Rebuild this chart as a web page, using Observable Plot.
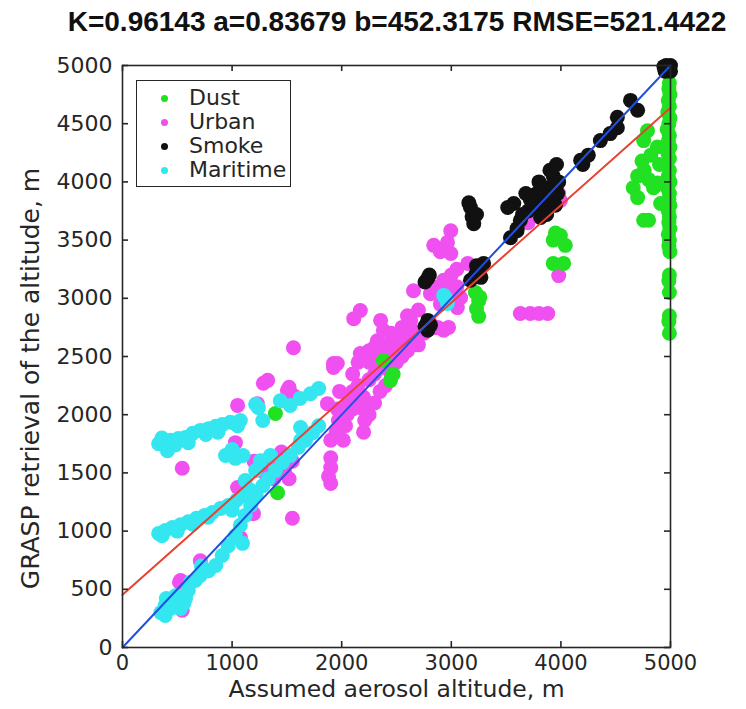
<!DOCTYPE html>
<html><head><meta charset="utf-8">
<script src="https://cdn.jsdelivr.net/npm/d3@7"></script>
<script src="https://cdn.jsdelivr.net/npm/@observablehq/plot@0.6"></script>
<style>
body{margin:0;background:#fff;width:746px;height:709px;overflow:hidden;position:relative;font-family:"DejaVu Sans",sans-serif;}
#title{height:44px;font:bold 28px "Liberation Sans",Arial,sans-serif;line-height:44px;text-align:center;padding-left:48px;color:#111;white-space:nowrap;}
#legend{position:absolute;left:136px;top:80px;width:153px;height:105px;border:1.5px solid #262626;background:#fff;}
#legend div{position:absolute;left:0;font-size:22px;color:#262626;line-height:24px;}
#legend span.dot{position:absolute;left:24px;top:9px;width:7px;height:7px;border-radius:50%;}
#legend span.t{position:absolute;left:52px;top:0;white-space:nowrap;}
</style></head>
<body>
<div id="title"></div>
<div id="chart"></div>
<div id="legend"></div>
<script>
const titleText = "K=0.96143 a=0.83679 b=452.3175 RMSE=521.4422";
const fitA = 0.83679, fitB = 452.3175;
const xLabel = "Assumed aerosol altitude, m";
const yLabel = "GRASP retrieval of the altitude, m";
const xTicks = [0,1000,2000,3000,4000,5000];
const yTicks = [0,500,1000,1500,2000,2500,3000,3500,4000,4500,5000];
const seriesNames = ["Dust","Urban","Smoke","Maritime"];
const seriesColors = ["#22e022","#f050f0","#111111","#33e6f0"];

const dust = [
 [4990,4850],[4985,4800],[4995,4750],[4980,4700],[4990,4650],[4975,4600],[4995,4550],[4985,4500],[4970,4450],[4990,4400],
 [4980,4350],[4995,4300],[4975,4250],[4990,4200],[4965,4150],[4990,4100],[4980,4050],[4995,4000],[4970,3950],[4990,3900],
 [4985,3850],[4995,3800],[4980,3750],[4990,3700],[4985,3650],[4995,3600],[4980,3550],[4990,3500],[4985,3450],[4995,3400],
 [4990,3200],[4985,3150],[4990,3050],[4990,2850],[4985,2800],[4990,2700],
 [4790,4440],[4755,4355],[4740,4180],[4760,4100],[4800,4020],[4845,3950],[4700,4050],[4660,3950],[4700,3865],[4910,3815],
 [4755,3670],[4800,3670],[4880,4300],[4900,4150],[4880,3990],[4820,4230],
 [3930,3500],[3995,3540],[4040,3455],[3950,3560],[3930,3300],[4025,3300],
 [3220,3050],[3250,2980],[3230,2910],[3250,2845],[3260,3010],
 [2380,2465],[2445,2295],[2470,2350],[1395,2010],[1395,1520],[1415,1330]
];
const urban = [
 [530,575],[545,320],[520,560],[540,330],[710,745],[545,1540],
 [1050,2080],[1030,1760],[1050,1375],[1075,945],[1195,1150],
 [1200,1600],[1260,1560],[1300,1500],[1350,1620],[1420,1580],[1480,1500],[1520,1450],[1550,1600],[1450,1680],[1380,1450],
 [1550,1110],[1285,2270],[1325,2295],[1505,2210],[1560,2165],[1230,2095],[1505,2150],[1520,2235],[1560,2575],
 [1870,2095],[1925,2405],[1900,1780],[1950,1850],[1970,1950],[1960,2050],[1980,2200],
 [1900,1630],[1900,1545],[1900,1410],[1880,1470],
 [2050,2100],[2100,2200],[2150,2250],[2200,2150],[2250,2300],[2300,2350],[2350,2400],[2400,2450],[2450,2500],[2500,2550],
 [2550,2600],[2600,2650],[2200,2050],[2250,2000],[2300,2100],[2350,2200],[2400,2250],[2100,2350],[2150,2450],[1925,2440],
 [2170,2525],[2230,2525],[2380,2550],[2325,2635],[2445,2610],[2535,2635],[2110,2825],[2170,2895],[2355,2810],[2380,2725],
 [2565,2705],[2630,2750],[2630,2810],[2655,3065],[2810,3040],[2700,2600],[2750,2700],[2800,2800],[2850,2750],[2875,2750],
 [2930,2725],[2975,2750],[3055,2920],[3085,3005],[2930,3155],[3000,3200],[3050,3250],[3150,3300],[2995,3385],[2840,3455],
 [2965,3480],[2995,3580],[3050,3100],[2900,2950],[2700,2900],[2600,2850],[2015,1780],[2035,1905],[2000,2000],
 [2200,1850],[2210,1950],[2200,2050],[1970,1880],[1990,2000],[1960,2440],[2900,3400],
 [2250,2450],[2300,2500],[2450,2350],[2500,2450],[2550,2500],[2600,2550],[2650,2600],[2700,2700],[2550,2750],[2450,2700],
 [2380,2600],[2300,2580],[2250,2550],[2150,2150],[2100,2050],[2050,2000],[2950,3050],[2980,3150],[3020,3000],[2880,3100],
 [3630,2870],[3720,2870],[3800,2870],[3880,2870],[3980,3195],[3980,3900],[3995,3840],[3880,3780],[3700,3650],[3800,3700]
];
const smoke = [
 [4950,4950],[4970,4980],[5000,5000],[4980,4960],[5000,4950],[4960,5000],[4990,4990],[4940,4990],
 [4635,4700],[4700,4615],[4515,4555],[4515,4465],[4450,4415],[4360,4355],[4250,4230],[4180,4185],[4200,4150],
 [3815,3695],[3850,3780],[3880,3850],[3900,3950],[3930,4050],[3960,4150],[3970,3900],[3950,3800],[3900,4100],[3860,3950],
 [3830,3850],[3870,3720],[3920,3880],[3940,3980],[3980,4000],[3800,4000],[3780,3900],
 [3630,3670],[3700,3750],[3750,3800],[3650,3720],[3720,3850],[3680,3900],[3600,3580],[3570,3815],[3515,3780],[3540,3520],[3600,3600],
 [3175,3780],[3205,3640],[3190,3700],[3230,3720],[3160,3820],
 [3175,3155],[3220,3200],[3260,3250],[3295,3300],[3230,3280],[3270,3180],
 [2785,3170],[2800,3200],[2760,3140],[2785,2725],[2785,2810],[2760,2760],[2810,2770]
];
const maritime = [
 [330,1750],[390,1735],[440,1780],[510,1795],[575,1805],[640,1840],[710,1865],[785,1880],[850,1900],[910,1915],
 [985,1935],[1050,1905],[1075,1950],[410,1690],[360,1800],[480,1740],[600,1760],[760,1830],[870,1850],[940,1650],
 [1030,1625],[1100,1650],[1000,1700],
 [1240,2060],[1280,1950],[1440,2120],[1530,2080],[1620,2140],[1715,2180],[1790,2225],[1215,2090],[1625,1890],
 [330,980],[390,1005],[455,1030],[530,1055],[600,1080],[675,1110],[750,1135],[820,1160],[895,1195],[965,1220],
 [1040,1265],[1120,1305],[1170,1350],[360,960],[500,1000],[640,1060],[780,1120],[1000,1180],
 [350,300],[390,360],[440,405],[485,445],[390,275],[530,335],[575,420],[600,490],[665,575],[710,620],
 [785,660],[850,705],[910,790],[965,875],[1030,960],[1075,1050],[1120,1135],[1170,1220],[1220,1305],[1280,1390],
 [1330,1450],[1395,1520],[1460,1590],[1530,1650],[1605,1720],[1670,1780],[1735,1845],[1790,1905],[1095,895],
 [400,420],[450,340],[560,380],[620,560],[720,700],[1120,1435],[1215,1520],[1260,1605],[1350,1650],[1625,1780],
 [2930,3025],[2965,2955],[2950,3000]
];

const seriesData = [dust, urban, smoke, maritime];
const drawOrder = [1, 0, 3, 2];
const points = drawOrder.flatMap(i => seriesData[i].map(([x, y]) => ({x, y, s: seriesNames[i]})));
const ends = [xTicks[0], xTicks[xTicks.length - 1]];
const fitLine = ends.map(x => ({x, y: fitA * x + fitB}));
const oneLine = ends.map(x => ({x, y: x}));

const W = 746, H = 665, mt = 21, mb = 62, ml = 122, mr = 76;
const fw = W - ml - mr, fh = H - mt - mb, tl = 6;
const axisColor = "#262626";

document.getElementById("title").textContent = titleText;

const chart = Plot.plot({
  width: W, height: H, marginTop: mt, marginBottom: mb, marginLeft: ml, marginRight: mr,
  style: {fontFamily: "DejaVu Sans", fontSize: "22px", color: axisColor, background: "white"},
  x: {domain: [0, 5000]},
  y: {domain: [0, 5000]},
  color: {domain: seriesNames, range: seriesColors},
  marks: [
    Plot.dot(points, {x: "x", y: "y", fill: "s", r: 7.5, stroke: null}),
    Plot.line(fitLine, {x: "x", y: "y", stroke: "#e8412f", strokeWidth: 2}),
    Plot.line(oneLine, {x: "x", y: "y", stroke: "#2050e0", strokeWidth: 2}),
    Plot.frame({stroke: axisColor, strokeWidth: 1.6}),
    Plot.tickX(xTicks, {x: d => d, insetTop: fh - tl, stroke: axisColor, strokeWidth: 1.6}),
    Plot.tickX(xTicks, {x: d => d, insetBottom: fh - tl, stroke: axisColor, strokeWidth: 1.6}),
    Plot.tickY(yTicks, {y: d => d, insetRight: fw - tl, stroke: axisColor, strokeWidth: 1.6}),
    Plot.tickY(yTicks, {y: d => d, insetLeft: fw - tl, stroke: axisColor, strokeWidth: 1.6}),
    Plot.axisX(xTicks, {tickSize: 0, tickPadding: 8, label: null, fontSize: 21, tickFormat: d => String(d)}),
    Plot.axisY(yTicks, {tickSize: 0, tickPadding: 10, label: null, fontSize: 22, tickFormat: d => String(d)}),
    Plot.text([xLabel], {text: d => d, frameAnchor: "bottom", dy: 49, fontSize: 23.5, fill: axisColor}),
    Plot.text([yLabel], {text: d => d, frameAnchor: "left", dx: -92, dy: 22, rotate: -90, textAnchor: "middle", fontSize: 25, fill: axisColor})
  ]
});
document.getElementById("chart").appendChild(chart);

const legend = document.getElementById("legend");
seriesNames.forEach((name, i) => {
  const row = document.createElement("div");
  row.style.top = (5 + i * 24) + "px";
  row.style.width = "100%";
  row.style.height = "24px";
  const dot = document.createElement("span");
  dot.className = "dot";
  dot.style.background = seriesColors[i];
  const t = document.createElement("span");
  t.className = "t";
  t.textContent = name;
  row.appendChild(dot); row.appendChild(t);
  legend.appendChild(row);
});
</script>
</body></html>
